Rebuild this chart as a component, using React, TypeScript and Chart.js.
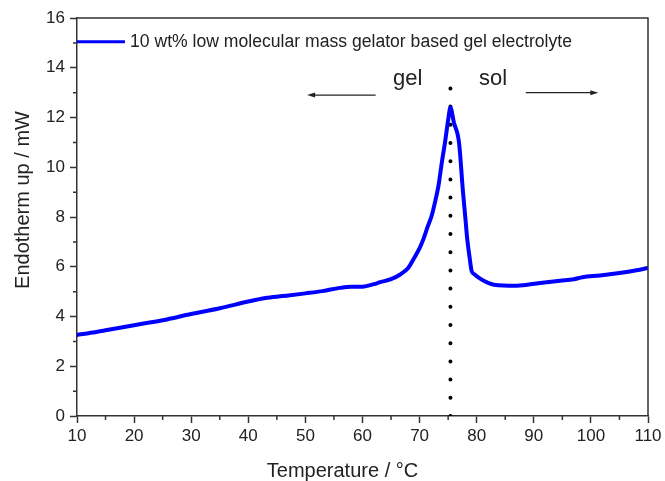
import React, { useEffect, useRef } from "react";
import { Chart, registerables } from "chart.js";

Chart.register(...registerables);

// ---- data ----
const temperature = [
  10, 12, 15, 20, 25, 30, 35, 40, 43, 46, 50, 53, 56, 58, 60, 62, 63.1, 65, 66.6, 68, 68.9, 70,
  70.65, 71.4, 72.1, 72.8, 73.3, 73.9, 74.45, 75.0, 75.4, 76.0, 76.9, 77.6, 78.0, 78.35, 78.8,
  79.1, 79.6, 80.6, 82, 83, 87, 91.1, 94.6, 97, 98.5, 101.6, 105, 108, 110,
];
const heatFlow = [
  3.26, 3.33, 3.45, 3.65, 3.85, 4.1, 4.33, 4.6, 4.74, 4.82, 4.93, 5.02, 5.15, 5.2, 5.2, 5.3, 5.38,
  5.5, 5.69, 5.95, 6.29, 6.75, 7.1, 7.6, 8.04, 8.7, 9.25, 10.2, 11.0, 11.9, 12.4, 11.8, 11.0, 9.0,
  8.0, 7.1, 6.3, 5.84, 5.7, 5.52, 5.35, 5.28, 5.24, 5.35, 5.44, 5.5, 5.58, 5.65, 5.75, 5.86, 5.95,
];
const seriesLabel = "10 wt% low molecular mass gelator based gel electrolyte";
const transitionTemp = [75.4, 75.4];
const transitionValue = [0, 13.17];

const xMin = 10;
const xMax = 110;
const xStep = 10;
const xMinorTicks = [15, 25, 35, 45, 55, 65, 75, 85, 95, 105];
const yMin = 0;
const yMax = 16;
const yStep = 2;
const yMinorTicks = [1, 3, 5, 7, 9, 11, 13, 15];

const xTitle = "Temperature / °C";
const yTitle = "Endotherm up / mW";

const phaseLabels = ["gel", "sol"];
const phaseLabelX = [67.9, 82.85];
const phaseLabelY = [13.31, 13.31];
// arrows: from / to (x) and height (y)
const arrowFromX = [62.3, 88.6];
const arrowToX = [50.3, 101.3];
const arrowY = [12.9, 13.0];
// legend anchor in data coordinates
const legendX = [10, 18.4];
const legendY = 15.05;

const FONT = "'Liberation Sans', Arial, sans-serif";
const AXIS_COLOR = "#333";
const TEXT_COLOR = "#222";
const BLUE = "#0000ff";

const overlayPlugin = {
  id: "overlay",
  afterDraw(chart: any) {
    const { ctx, chartArea } = chart;
    const xs = chart.scales.x;
    const ys = chart.scales.y;
    ctx.save();
    // frame (top and right)
    ctx.strokeStyle = AXIS_COLOR;
    ctx.lineWidth = 1.5;
    ctx.beginPath();
    ctx.moveTo(chartArea.left, chartArea.top);
    ctx.lineTo(chartArea.right, chartArea.top);
    ctx.lineTo(chartArea.right, chartArea.bottom);
    ctx.stroke();

    // minor ticks
    ctx.beginPath();
    xMinorTicks.forEach((v) => {
      const px = xs.getPixelForValue(v);
      ctx.moveTo(px, chartArea.bottom);
      ctx.lineTo(px, chartArea.bottom + 4);
    });
    yMinorTicks.forEach((v) => {
      const py = ys.getPixelForValue(v);
      ctx.moveTo(chartArea.left, py);
      ctx.lineTo(chartArea.left - 4, py);
    });
    ctx.stroke();

    // legend
    const ly = ys.getPixelForValue(legendY);
    const lx0 = xs.getPixelForValue(legendX[0]);
    const lx1 = xs.getPixelForValue(legendX[1]);
    ctx.strokeStyle = BLUE;
    ctx.lineWidth = 3;
    ctx.beginPath();
    ctx.moveTo(lx0, ly);
    ctx.lineTo(lx1, ly);
    ctx.stroke();
    ctx.fillStyle = TEXT_COLOR;
    ctx.font = `17.6px ${FONT}`;
    ctx.textAlign = "left";
    ctx.textBaseline = "middle";
    ctx.fillText(seriesLabel, lx1 + 5, ly + 1);

    // phase labels
    ctx.font = `22px ${FONT}`;
    ctx.textAlign = "center";
    ctx.textBaseline = "alphabetic";
    phaseLabels.forEach((t, i) => {
      ctx.fillText(t, xs.getPixelForValue(phaseLabelX[i]), ys.getPixelForValue(phaseLabelY[i]));
    });

    // arrows
    ctx.strokeStyle = "#222";
    ctx.fillStyle = "#222";
    ctx.lineWidth = 1.3;
    arrowFromX.forEach((fx, i) => {
      const x0 = xs.getPixelForValue(fx);
      const x1 = xs.getPixelForValue(arrowToX[i]);
      const y = ys.getPixelForValue(arrowY[i]);
      const dir = Math.sign(x1 - x0);
      ctx.beginPath();
      ctx.moveTo(x0, y);
      ctx.lineTo(x1 - dir * 6, y);
      ctx.stroke();
      ctx.beginPath();
      ctx.moveTo(x1, y);
      ctx.lineTo(x1 - dir * 8, y - 2.5);
      ctx.lineTo(x1 - dir * 8, y + 2.5);
      ctx.closePath();
      ctx.fill();
    });

    // axis titles
    ctx.fillStyle = TEXT_COLOR;
    ctx.font = `20px ${FONT}`;
    ctx.textAlign = "center";
    ctx.textBaseline = "alphabetic";
    ctx.fillText(xTitle, (chartArea.left + chartArea.right) / 2 - 20, chartArea.bottom + 61);
    ctx.save();
    ctx.translate(29, (chartArea.top + chartArea.bottom) / 2 - 17);
    ctx.rotate(-Math.PI / 2);
    ctx.fillText(yTitle, 0, 0);
    ctx.restore();

    ctx.restore();
  },
};

export default function App() {
  const canvasRef = useRef<HTMLCanvasElement | null>(null);

  useEffect(() => {
    if (!canvasRef.current) return;
    const chart = new Chart(canvasRef.current, {
      type: "line",
      data: {
        datasets: [
          {
            label: seriesLabel,
            data: temperature.map((t, i) => ({ x: t, y: heatFlow[i] })),
            borderColor: BLUE,
            backgroundColor: BLUE,
            borderWidth: 4,
            pointRadius: 0,
            fill: false,
            cubicInterpolationMode: "monotone",
            borderJoinStyle: "round",
            borderCapStyle: "round",
          },
          {
            label: "transition",
            data: transitionTemp.map((t, i) => ({ x: t, y: transitionValue[i] })),
            borderColor: "#000",
            borderWidth: 4,
            borderDash: [0, 18.2],
            borderCapStyle: "round",
            pointRadius: 0,
            fill: false,
          },
        ],
      },
      options: {
        animation: false,
        responsive: true,
        maintainAspectRatio: false,
        layout: { padding: { top: 18, right: 17, bottom: 0, left: 0 } },
        plugins: {
          legend: { display: false },
          tooltip: { enabled: false },
        },
        scales: {
          x: {
            type: "linear",
            min: xMin,
            max: xMax,
            afterFit: (s: any) => {
              s.height = 65;
            },
            ticks: {
              stepSize: xStep,
              color: TEXT_COLOR,
              font: { size: 17, family: FONT },
              padding: 3,
              maxRotation: 0,
            },
            grid: {
              drawOnChartArea: false,
              drawTicks: true,
              tickLength: 7,
              tickColor: AXIS_COLOR,
              tickWidth: 1.5,
            },
            border: { display: true, color: AXIS_COLOR, width: 1.5 },
          },
          y: {
            type: "linear",
            min: yMin,
            max: yMax,
            afterFit: (s: any) => {
              s.width = 77;
            },
            ticks: {
              stepSize: yStep,
              color: TEXT_COLOR,
              font: { size: 17, family: FONT },
              padding: 5,
            },
            grid: {
              drawOnChartArea: false,
              drawTicks: true,
              tickLength: 7,
              tickColor: AXIS_COLOR,
              tickWidth: 1.5,
            },
            border: { display: true, color: AXIS_COLOR, width: 1.5 },
          },
        },
      },
      plugins: [overlayPlugin],
    } as any);
    return () => chart.destroy();
  }, []);

  return (
    <div style={{ position: "absolute", left: 0, top: 0, width: 665, height: 481, background: "#fff" }}>
      <canvas ref={canvasRef} />
    </div>
  );
}
